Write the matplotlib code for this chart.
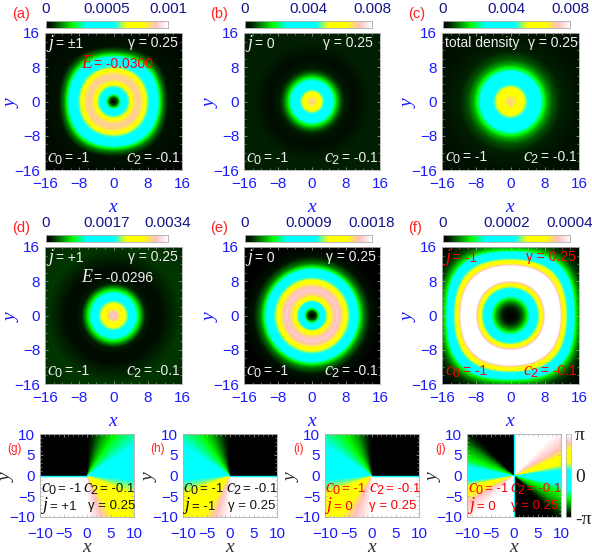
import numpy as np
import matplotlib
matplotlib.use('Agg')
import matplotlib.pyplot as plt
from matplotlib.colors import LinearSegmentedColormap

W, H = 592, 555

# radial density profiles: radius (x units) -> density
r_a = [0, 1, 1.7, 2.7, 3.7, 4.3, 4.8, 5.7, 6.7, 7.2, 7.9, 9, 10.3, 11, 11.7, 13, 23]
d_a = [0, 0.0001, 0.0003, 0.0005, 0.00062, 0.00075, 0.00085, 0.00088, 0.00085, 0.00075, 0.00062, 0.0005, 0.00035, 0.00022, 0.00012, 0.00003, 0]
r_b = [0, 1.2, 1.8, 2.4, 3.2, 4.7, 5.4, 6, 7, 8, 10, 12, 14, 23]
d_b = [0.00704, 0.00656, 0.006, 0.00504, 0.00416, 0.00288, 0.002, 0.00136, 0.00064, 0.00032, 0.00016, 0.00028, 0.0004, 0.0004]
r_c = [0, 1, 1.8, 3.5, 4.5, 6.9, 7.5, 8.6, 10, 12, 16, 23]
d_c = [0.00696, 0.00672, 0.00624, 0.00504, 0.004, 0.0028, 0.00216, 0.00128, 0.00072, 0.0004, 0.00024, 0.0002]
r_d = [0, 1, 1.7, 2.3, 3.1, 4, 5.1, 5.8, 6.6, 7.5, 9, 11, 13, 16, 23]
d_d = [0.00313, 0.00299, 0.00272, 0.00245, 0.00211, 0.0017, 0.00119, 0.00082, 0.00048, 0.00017, 0.00007, 0.00007, 0.00017, 0.00024, 0.0002]
r_e = [0, 1, 1.6, 2.3, 3.3, 3.9, 4.7, 6, 7.2, 7.9, 8.7, 9.7, 10.7, 11.4, 12.2, 14, 17, 23]
d_e = [0, 0.00014, 0.00045, 0.00076, 0.00104, 0.0013, 0.00153, 0.00166, 0.00153, 0.0013, 0.00108, 0.0009, 0.00063, 0.0004, 0.00022, 0.00005, 0, 0]
r_f = [0, 1.5, 2.7, 3.3, 3.9, 4.7, 6.6, 7, 7.6, 8, 8.4, 11.3, 11.8, 12.1, 12.7, 13.2, 14.8, 15.3, 16, 17, 19, 23]
d_f = [0, 0.00001, 0.00004, 0.00006, 0.00009, 0.00014, 0.00024, 0.00029, 0.00033, 0.00037, 0.00048, 0.00048, 0.00037, 0.00033, 0.00029, 0.00024, 0.00014, 0.00009, 0.00006, 0.00003, 0.00001, 0]
# the (a) and (f) rings go slightly square at large radius
square_a = 0.03
square_f = 0.035

# phase fans: polar angle (deg) -> phase
ang_g = [-180, -90, -75, -60, -25, -8, 0, 10, 30, 55, 70, 90, 180]
ph_g = [3.14, 3.14, 2.6, 1.9, 1.0, 0.45, 0.2, 0.0, -0.9, -1.6, -2.2, -3.14, -3.14]
ang_h = [-180, -172, -155, -120, -105, -90, -0.01, 0, 90, 110, 125, 150, 170, 180]
ph_h = [0.2, 0.45, 1.0, 1.9, 2.6, 3.14, 3.14, -3.14, -3.14, -2.2, -1.6, -0.9, 0.0, 0.2]
ang_i = [-180, -172, -155, -125, -108, -90, -0.01, 0, 90, 108, 125, 150, 170, 180]
ph_i = [0.2, 0.45, 1.0, 1.9, 2.6, 3.14, 3.14, -3.14, -3.14, -2.2, -1.6, -0.9, 0.0, 0.2]
ang_j = [-180, -172, -165, -155, -145, -130, -90.01, -90, -50, -35, -20, -10, 8, 15, 25, 35, 50, 89.99, 90, 130, 145, 160, 170, 180]
ph_j = [0.0, 0.45, 1.0, 1.9, 2.6, 3.14, 3.14, -3.14, -3.14, -2.2, -1.6, -0.9, 0.45, 1.0, 1.9, 2.6, 3.14, 3.14, -3.14, -3.14, -2.2, -1.6, -0.9, 0.0]

# colour stops of the palette
stops = [0, 0.05, 0.22, 0.33, 0.56, 0.66, 0.80, 0.90, 1]
stop_colors = ['#000000', '#002000', '#00ff00', '#00ffff', '#00ffff', '#ffff00', '#ffff00', '#ffc0c0', '#ffffff']
cmap = LinearSegmentedColormap.from_list('pal', list(zip(stops, stop_colors)))

plt.rcParams['font.family'] = ['Liberation Sans', 'DejaVu Sans']
plt.rcParams['mathtext.fontset'] = 'custom'
plt.rcParams['mathtext.it'] = 'Liberation Serif:italic'
plt.rcParams['mathtext.rm'] = 'Liberation Sans'

fig = plt.figure(figsize=(W / 100, H / 100), dpi=100)


def box(x0, y0, x1, y1):
    return fig.add_axes([x0 / W, 1 - y1 / H, (x1 - x0) / W, (y1 - y0) / H])


BLUE = '#1a1aff'
NAVY = '#14148c'
GREY = '#b0b0b0'
grid = np.linspace(-16, 16, 200)
X, Y = np.meshgrid(grid, grid)


def style(ax, xpad):
    ax.tick_params(axis='both', which='major', direction='in', length=2.5, width=0.5, color=GREY, labelcolor=BLUE, labelsize=11, top=True, right=True)
    ax.tick_params(axis='x', pad=xpad)
    ax.tick_params(axis='y', pad=3.5)
    ax.tick_params(axis='both', which='minor', direction='in', length=1.2, width=0.4, color=GREY, top=True, right=True)
    for s in ax.spines.values():
        s.set_color(GREY)
        s.set_linewidth(0.6)


def density(ax, r_k, d_k, vmax, square=0.0):
    R = np.hypot(X, Y)
    if square:
        R = R * (1 - square * np.minimum((R / 10) ** 2, 2.5) * np.sin(2 * np.arctan2(Y, X)) ** 2)
    Z = np.interp(R, r_k, d_k)
    ax.imshow(Z, extent=[-16, 16, -16, 16], origin='lower', cmap=cmap, vmin=0, vmax=vmax, interpolation='bilinear', aspect='auto')
    ax.set_xticks([-16, -8, 0, 8, 16])
    ax.set_yticks([-16, -8, 0, 8, 16])
    ax.set_xticks(np.arange(-16, 17, 2), minor=True)
    ax.set_yticks(np.arange(-16, 17, 2), minor=True)
    style(ax, 5)
    ax.set_xlabel('$x$', color=BLUE, fontsize=14, labelpad=6)
    ax.set_ylabel('$y$', color=BLUE, fontsize=14, labelpad=-4.5)


def cbar(x0, y0, x1, y1, labels):
    ax = box(x0, y0, x1, y1)
    ax.imshow(np.linspace(0, 1, 256)[None, :], cmap=cmap, aspect='auto', extent=[0, 1, 0, 1])
    ax.set_yticks([])
    ax.set_xticks([0, 0.5, 1], labels)
    ax.xaxis.tick_top()
    ax.tick_params(axis='x', direction='in', length=2, width=0.5, color=GREY, labelcolor=NAVY, labelsize=11, pad=3.5)
    for s in ax.spines.values():
        s.set_color(GREY)
        s.set_linewidth(0.6)


def fan(ax, ang_k, ph_k):
    g = np.linspace(-10, 10, 300)
    XX, YY = np.meshgrid(g, g)
    A = np.degrees(np.arctan2(YY, XX))
    Z = np.interp(A, ang_k, ph_k)
    ax.imshow(Z, extent=[-10, 10, -10, 10], origin='lower', cmap=cmap, vmin=-3.14, vmax=3.14, interpolation='nearest', aspect='auto')
    ax.set_xticks([-10, -5, 0, 5, 10])
    ax.set_yticks([-10, -5, 0, 5, 10])
    ax.set_xticks(np.arange(-10, 11, 1), minor=True)
    ax.set_yticks(np.arange(-10, 11, 1), minor=True)
    style(ax, 7)
    ax.set_xlabel('$x$', color='#303030', fontsize=14, labelpad=-1)
    ax.set_ylabel('$y$', color='#303030', fontsize=14, labelpad=-5)


def put(x, y, s, color, size=10):
    fig.text(x / W, 1 - y / H, s, color=color, fontsize=size, ha='left', va='baseline')


def tag(x, y, sym, rest, color, dx, size=10):
    # big italic symbol, then the plain text after it
    put(x, y, sym, color, 13)
    put(x + dx, y, rest, color, size)


rows = [(33, 170), (247, 384)]
cols = [(45, 182), (244, 380), (442, 579)]
bars = [(46, 168), (245, 372), (443, 570)]
dens = [[(r_a, d_a, 0.001, square_a), (r_b, d_b, 0.008, 0), (r_c, d_c, 0.008, 0)],
        [(r_d, d_d, 0.0034, 0), (r_e, d_e, 0.0018, 0), (r_f, d_f, 0.0004, square_f)]]
bar_labels = [[['0', '0.0005', '0.001'], ['0', '0.004', '0.008'], ['0', '0.004', '0.008']],
              [['0', '0.0017', '0.0034'], ['0', '0.0009', '0.0018'], ['0', '0.0002', '0.0004']]]
for i, (y0, y1) in enumerate(rows):
    for k, (x0, x1) in enumerate(cols):
        ax = box(x0, y0, x1, y1)
        r_k, d_k, vmax, sq = dens[i][k]
        density(ax, r_k, d_k, vmax, sq)
        cbar(bars[k][0], y0 - 12, bars[k][1], y0 - 5, bar_labels[i][k])

bottom = [(40, 134), (183, 277), (325, 419), (467, 561)]
fans = [(ang_g, ph_g), (ang_h, ph_h), (ang_i, ph_i), (ang_j, ph_j)]
seam = ['left', 'right', 'right', 'vert']
for (x0, x1), (a_k, p_k), sm in zip(bottom, fans, seam):
    ax = box(x0, 434, x1, 517)
    fan(ax, a_k, p_k)
    # the cyan seam where the phase jumps
    if sm == 'left':
        ax.axhline(0, xmin=0, xmax=0.5, color='#00ffff', lw=1)
    elif sm == 'right':
        ax.axhline(0, xmin=0.5, xmax=1, color='#00ffff', lw=1)
    else:
        ax.axvline(0, color='#00ffff', lw=1)

# phase colour bar
ax = box(566, 434, 571, 517)
ax.imshow(np.linspace(1, 0, 256)[:, None], cmap=cmap, aspect='auto', extent=[0, 1, -1, 1])
ax.set_xticks([])
ax.yaxis.tick_right()
ax.set_yticks([-1, 0, 1], ['-π', '0', 'π'], family='Liberation Serif')
ax.tick_params(axis='y', length=0, labelsize=14, labelcolor='#222222', pad=3)
for s in ax.spines.values():
    s.set_color(GREY)
    s.set_linewidth(0.5)

# panel letters
for x, y, s in [(12, 18, '(a)'), (210, 18, '(b)'), (408, 18, '(c)'), (12, 232, '(d)'), (210, 232, '(e)'), (408, 232, '(f)')]:
    put(x, y, s, '#ff2020', 10.5)
for x, y, s in [(7, 452, '(g)'), (150, 452, '(h)'), (293, 452, '(i)'), (435, 452, '(j)')]:
    put(x, y, s, '#ff2020', 8.5)

# annotations in the upper panels
WH = '#f0f0f0'
RD = '#ff0000'
tag(47, 48, '$j$', '= ±1', WH, 9)
put(128, 47, 'γ = 0.25', WH)
tag(81, 68, '$E$', '= -0.0300', RD, 13)
tag(47, 162, '$c_0$', '= -1', WH, 18)
tag(126, 162, '$c_2$', '= -0.1', WH, 18)
tag(246, 48, '$j$', '= 0', WH, 9)
put(323, 47, 'γ = 0.25', WH)
tag(246, 162, '$c_0$', '= -1', WH, 18)
tag(324, 162, '$c_2$', '= -0.1', WH, 18)
put(445, 47, 'total density', WH)
put(528, 47, 'γ = 0.25', WH)
tag(445, 161, '$c_0$', '= -1', WH, 18)
tag(523, 161, '$c_2$', '= -0.1', WH, 18)
tag(47, 262, '$j$', '= +1', WH, 9)
put(128, 261, 'γ = 0.25', WH)
tag(81, 282, '$E$', '= -0.0296', WH, 13)
tag(47, 375, '$c_0$', '= -1', WH, 18)
tag(126, 375, '$c_2$', '= -0.1', WH, 18)
tag(246, 262, '$j$', '= 0', WH, 9)
put(326, 261, 'γ = 0.25', WH)
tag(246, 375, '$c_0$', '= -1', WH, 18)
tag(324, 375, '$c_2$', '= -0.1', WH, 18)
tag(444, 262, '$j$', '= -1', RD, 9)
put(526, 261, 'γ = 0.25', RD)
tag(445, 375, '$c_0$', '= -1', RD, 18)
tag(523, 375, '$c_2$', '= -0.1', RD, 18)

# annotations in the phase panels
K = '#111111'
for x0, col, jt, c2x, gx in [(41, K, '= +1', 83, 88), (183, K, '= -1', 226, 228), (325, RD, '= 0', 369, 369), (468, RD, '= 0', 510, 511)]:
    tag(x0, 492, '$c_0$', '= -1', col, 17, 9.5)
    tag(c2x, 492, '$c_2$', '= -0.1', col, 17, 9.5)
    tag(x0, 510, '$j$', jt, col, 9, 9.5)
    put(gx, 509, 'γ = 0.25', col, 9.5)

fig.savefig('out.png', dpi=100)
